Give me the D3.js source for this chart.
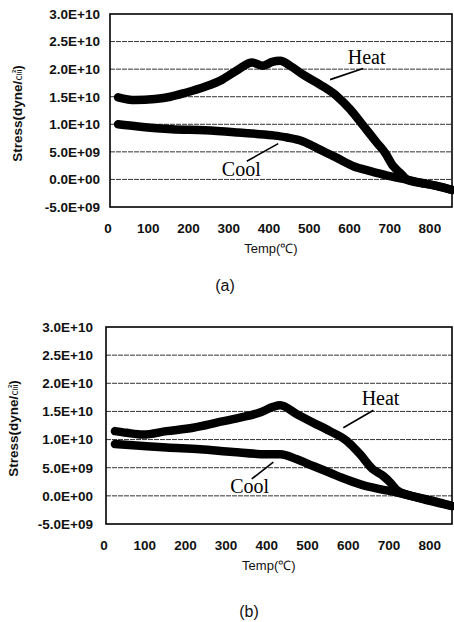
<!DOCTYPE html>
<html>
<head>
<meta charset="utf-8">
<script src="https://cdn.jsdelivr.net/npm/d3@7/dist/d3.min.js"></script>
<style>
  html, body { margin: 0; padding: 0; background: #fff; }
  svg { display: block; }
</style>
</head>
<body>
<svg id="chart" width="454" height="622"></svg>
<script>
// ---------- DATA (stress in units of 1e9 dyne/cm^2) ----------
const xTicks = [0, 100, 200, 300, 400, 500, 600, 700, 800];
const yTicks = [-5, 0, 5, 10, 15, 20, 25, 30];
const yTickLabels = ["-5.0E+09", "0.0E+00", "5.0E+09", "1.0E+10", "1.5E+10", "2.0E+10", "2.5E+10", "3.0E+10"];

// Panel (a)
const heatA_T = [20, 62, 112, 150, 187, 236, 279, 318, 353, 380, 403, 423, 448, 480, 522, 564, 597, 630, 664, 684, 704, 721, 740, 780, 820, 850];
const heatA_S = [14.9, 14.4, 14.6, 15.0, 15.7, 16.8, 18.1, 19.9, 21.2, 20.6, 21.3, 21.5, 20.6, 19.0, 17.2, 15.1, 12.7, 9.7, 6.6, 4.8, 2.4, 1.2, -0.1, -0.7, -1.3, -1.9];
const coolA_T = [20, 70, 154, 236, 318, 403, 440, 480, 522, 564, 605, 647, 689, 729, 771, 813, 850];
const coolA_S = [10.0, 9.6, 9.1, 8.9, 8.5, 8.0, 7.6, 6.9, 5.4, 3.9, 2.4, 1.5, 0.7, 0.1, -0.6, -1.2, -1.9];

// Panel (b)
const heatB_T = [22, 51, 91, 149, 214, 272, 329, 378, 410, 428, 469, 509, 550, 591, 624, 656, 680, 698, 715, 740, 780, 820, 850];
const heatB_S = [11.5, 11.2, 10.9, 11.5, 12.1, 13.0, 13.9, 14.8, 15.8, 16.1, 14.5, 13.0, 11.5, 9.8, 7.4, 4.7, 3.6, 2.4, 1.0, 0.2, -0.5, -1.2, -1.8];
const coolB_T = [22, 66, 149, 231, 312, 394, 428, 469, 509, 550, 591, 631, 673, 715, 755, 796, 850];
const coolB_S = [9.2, 9.0, 8.6, 8.3, 7.8, 7.4, 7.4, 6.5, 5.3, 4.1, 2.9, 1.9, 1.2, 0.6, -0.1, -0.9, -1.8];

// Annotations in data space: [textT, textS, lineT1, lineS1, lineT2, lineS2]
const annHeatA = [591, 20.9, 547, 18.1, 629, 20.1];
const annCoolA = [278, 0.7, 340, 3.3, 418, 6.5];
const annHeatB = [628, 16.2, 583, 12.1, 657, 15.2];
const annCoolB = [305, 0.5, 358, 3.0, 411, 6.0];

const panelLabels = ["(a)", "(b)"];
const xTitle = "Temp(℃)";

// ---------- DRAW ----------
const svg = d3.select("#chart");
const tickFont = "'Liberation Sans', Arial, sans-serif";

function drawPanel(cfg) {
  const g = svg.append("g");
  const x = d3.scaleLinear().domain([0, 850]).range([cfg.left, cfg.right]);
  const y = d3.scaleLinear().domain([-5, 30]).range([cfg.bottom, cfg.top]);

  // gridlines
  g.append("g").selectAll("line").data(yTicks.filter(t => t > -5 && t < 30)).join("line")
    .attr("x1", cfg.left).attr("x2", cfg.right)
    .attr("y1", d => y(d)).attr("y2", d => y(d))
    .attr("stroke", "#333").attr("stroke-width", 1)
    .attr("stroke-dasharray", "5,1");

  // y tick labels
  g.append("g").selectAll("text").data(yTicks).join("text")
    .attr("x", cfg.left - cfg.yLabelGap).attr("y", d => y(d))
    .attr("dy", "0.36em").attr("text-anchor", "end")
    .attr("font-family", tickFont).attr("font-weight", "bold").attr("font-size", 13.5)
    .attr("fill", "#111")
    .text((d, i) => yTickLabels[i]);

  // x tick labels
  g.append("g").selectAll("text").data(xTicks).join("text")
    .attr("x", d => x(d) - 2).attr("y", cfg.bottom + 21)
    .attr("dy", "0.36em").attr("text-anchor", "middle")
    .attr("font-family", tickFont).attr("font-weight", "bold").attr("font-size", 13.5)
    .attr("fill", "#111")
    .text(d => d);

  // axis titles
  g.append("text")
    .attr("x", x(400)).attr("y", cfg.bottom + 41)
    .attr("dy", "0.36em").attr("text-anchor", "middle")
    .attr("font-family", tickFont).attr("font-size", 13).attr("fill", "#111")
    .text(xTitle);

  const yt = g.append("text")
    .attr("transform", `translate(${cfg.yTitleX},${(cfg.top + cfg.bottom) / 2 + 3}) rotate(-90)`)
    .attr("text-anchor", "middle").attr("dy", "0.36em")
    .attr("font-family", tickFont).attr("font-weight", "bold").attr("font-size", 13.5)
    .attr("fill", "#111");
  yt.append("tspan").text("Stress(dyne/");
  yt.append("tspan").attr("font-family", "'Noto Sans CJK KR', sans-serif").attr("font-size", 11).attr("font-weight", "normal").text("㎠");
  yt.append("tspan").text(")");

  // curves
  const line = d3.line().x(d => x(d[0])).y(d => y(d[1])).curve(d3.curveMonotoneX);
  [[cfg.coolT, cfg.coolS], [cfg.heatT, cfg.heatS]].forEach(([T, S]) => {
    g.append("path").datum(T.map((t, i) => [t, S[i]]))
      .attr("d", line).attr("fill", "none").attr("stroke", "#000")
      .attr("stroke-width", 8.5).attr("stroke-linejoin", "round").attr("stroke-linecap", "round");
  });

  // frame
  g.append("rect")
    .attr("x", cfg.left).attr("y", cfg.top)
    .attr("width", cfg.right - cfg.left).attr("height", cfg.bottom - cfg.top)
    .attr("fill", "none").attr("stroke", "#000").attr("stroke-width", 1.6);

  // annotations
  [[cfg.annHeat, "Heat"], [cfg.annCool, "Cool"]].forEach(([a, label]) => {
    g.append("text").attr("x", x(a[0])).attr("y", y(a[1]))
      .attr("font-family", "'Liberation Serif', 'Times New Roman', serif")
      .attr("font-size", 20).attr("fill", "#000").text(label);
    g.append("line").attr("x1", x(a[2])).attr("y1", y(a[3]))
      .attr("x2", x(a[4])).attr("y2", y(a[5]))
      .attr("stroke", "#000").attr("stroke-width", 1.6);
  });

  // panel label
  g.append("text").attr("x", cfg.labelX).attr("y", cfg.labelY)
    .attr("dy", "0.36em").attr("text-anchor", "middle")
    .attr("font-family", tickFont).attr("font-size", 16).attr("fill", "#111")
    .text(cfg.label);
}

drawPanel({
  left: 110, right: 452, top: 14, bottom: 207, yLabelGap: 10, yTitleX: 17,
  heatT: heatA_T, heatS: heatA_S, coolT: coolA_T, coolS: coolA_S,
  annHeat: annHeatA, annCool: annCoolA,
  label: panelLabels[0], labelX: 225, labelY: 285
});
drawPanel({
  left: 106, right: 452, top: 327, bottom: 524, yLabelGap: 13, yTitleX: 13,
  heatT: heatB_T, heatS: heatB_S, coolT: coolB_T, coolS: coolB_S,
  annHeat: annHeatB, annCool: annCoolB,
  label: panelLabels[1], labelX: 249, labelY: 611
});
</script>
</body>
</html>
